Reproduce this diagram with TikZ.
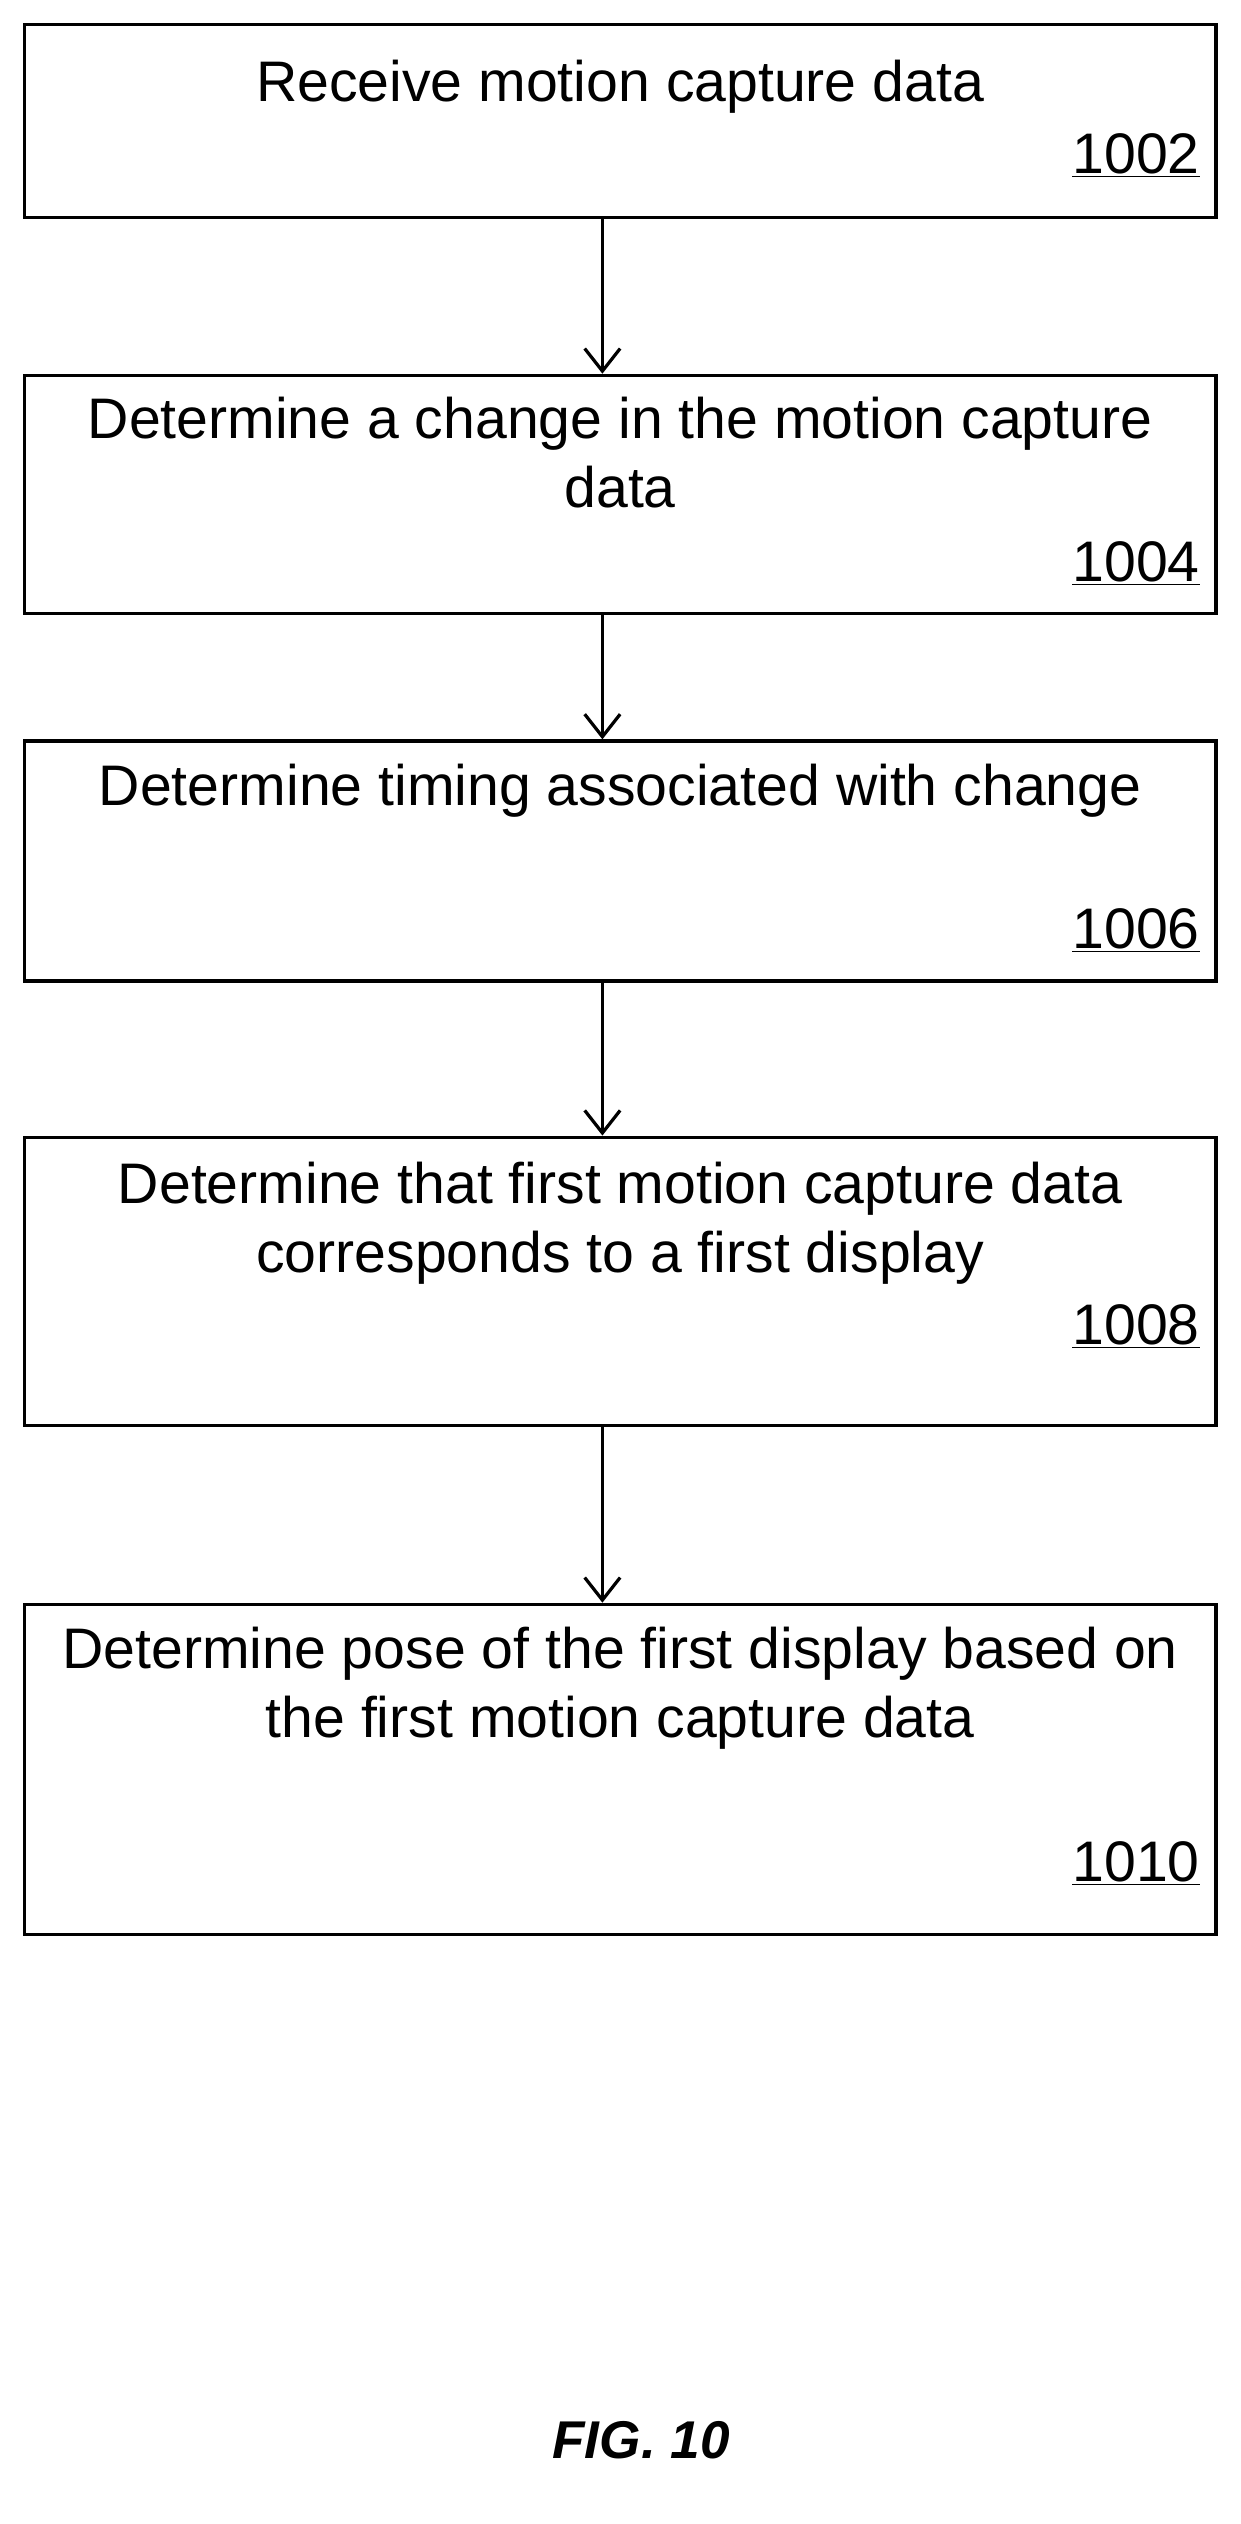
\documentclass[tikz,border=0pt]{standalone}
\usepackage{fontspec}
\setmainfont{Liberation Sans}
\usetikzlibrary{arrows.meta}
\begin{document}
\begin{tikzpicture}[x=1pt,y=-1pt,
  box/.style={draw,line width=2pt,minimum width=740pt,anchor=north west,inner sep=0pt},
  txt/.style={font=\fontsize{35.5}{43}\selectfont,align=center,anchor=north,inner sep=0pt},
  num/.style={font=\fontsize{35.5}{43}\selectfont,anchor=base east,inner sep=0pt},
  arr/.style={-{Straight Barb[length=14pt,width=22pt]},line width=2pt}]
\useasboundingbox (0,0) rectangle (770,1567);
\node[box,minimum height=120pt] (b1) at (14,14) {};
\node[box,minimum height=148pt] (b2) at (14,232) {};
\node[box,minimum height=149pt] (b3) at (14,459) {};
\node[box,minimum height=179pt] (b4) at (14,705) {};
\node[box,minimum height=205pt] (b5) at (14,995) {};
\node[txt] (t1) at (385,37) {Receive motion capture data};
\node[txt] (t2) at (385,246) {Determine a change in the motion capture\\data};
\node[txt] (t3) at (385,474) {Determine timing associated with change};
\node[txt] (t4) at (385,721) {Determine that first motion capture data\\corresponds to a first display};
\node[txt] (t5) at (385,1010) {Determine pose of the first display based on\\the first motion capture data};
\node[num] (n1) at (745,108) {\underline{1002}};
\node[num] (n2) at (745,361) {\underline{1004}};
\node[num] (n3) at (745,589) {\underline{1006}};
\node[num] (n4) at (745,835) {\underline{1008}};
\node[num] (n5) at (745,1168) {\underline{1010}};
\draw[arr] (b1.south -| 374,0) -- (b2.north -| 374,0);
\draw[arr] (b2.south -| 374,0) -- (b3.north -| 374,0);
\draw[arr] (b3.south -| 374,0) -- (b4.north -| 374,0);
\draw[arr] (b4.south -| 374,0) -- (b5.north -| 374,0);
\node[font=\fontsize{33}{40}\selectfont\bfseries\itshape] (fig) at (398,1515) {FIG. 10};
\end{tikzpicture}
\end{document}
